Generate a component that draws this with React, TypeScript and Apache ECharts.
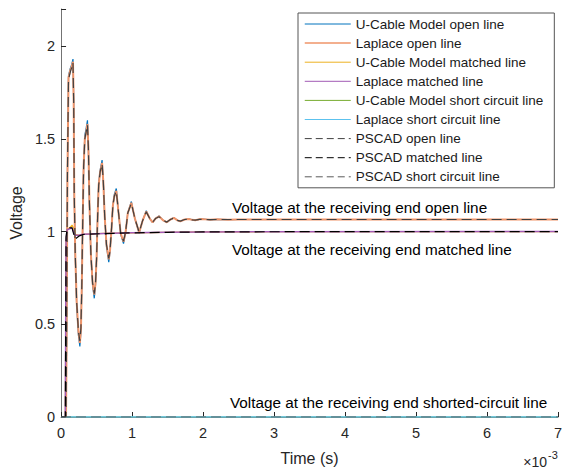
import React, { useEffect, useRef } from "react";
import * as echarts from "echarts";

// time in units of 1e-3 s
const openT = [0, 0.07, 0.078, 0.09, 0.105, 0.13, 0.15, 0.168, 0.178, 0.186, 0.2, 0.22, 0.245, 0.265, 0.28, 0.292, 0.305, 0.318, 0.335, 0.355, 0.372, 0.385, 0.4, 0.42, 0.445, 0.468, 0.485, 0.5, 0.515, 0.53, 0.55, 0.578, 0.595, 0.615, 0.64, 0.672, 0.69, 0.71, 0.73, 0.75, 0.778, 0.81, 0.84, 0.88, 0.91, 0.94, 0.99, 1.04, 1.1, 1.15, 1.2, 1.25, 1.29, 1.33, 1.38, 1.44, 1.49, 1.54, 1.59, 1.64, 1.68, 1.74, 1.8, 1.85, 1.89, 1.95, 2.0, 2.1, 2.2, 2.35, 2.5, 3.0, 4.0, 5.0, 6.0, 7.0];
const laplaceOpenV = [0, 0, 0.4, 1.3, 1.83, 1.87, 1.89, 1.915, 1.7, 1.2, 0.88, 0.62, 0.46, 0.4, 0.47, 0.7, 1.05, 1.35, 1.5, 1.54, 1.58, 1.45, 1.15, 0.88, 0.72, 0.66, 0.72, 0.85, 1.08, 1.25, 1.32, 1.37, 1.27, 1.08, 0.93, 0.85, 0.9, 1.01, 1.14, 1.19, 1.22, 1.1, 0.99, 0.945, 1.0, 1.1, 1.155, 1.07, 0.995, 1.06, 1.108, 1.07, 1.05, 1.07, 1.082, 1.06, 1.05, 1.065, 1.074, 1.06, 1.055, 1.065, 1.068, 1.063, 1.061, 1.066, 1.067, 1.063, 1.066, 1.064, 1.065, 1.065, 1.065, 1.065, 1.065, 1.065];
const uCableOpenV = [0, 0, 0.4, 1.3, 1.84, 1.88, 1.9, 1.93, 1.71, 1.2, 0.87, 0.6, 0.44, 0.38, 0.46, 0.7, 1.05, 1.36, 1.52, 1.56, 1.6, 1.46, 1.15, 0.87, 0.71, 0.64, 0.71, 0.85, 1.08, 1.26, 1.33, 1.385, 1.28, 1.08, 0.92, 0.835, 0.89, 1.01, 1.14, 1.2, 1.232, 1.1, 0.985, 0.935, 1.0, 1.1, 1.162, 1.07, 0.99, 1.06, 1.112, 1.07, 1.048, 1.07, 1.084, 1.06, 1.049, 1.065, 1.075, 1.06, 1.054, 1.065, 1.068, 1.063, 1.061, 1.066, 1.067, 1.063, 1.066, 1.064, 1.065, 1.065, 1.065, 1.065, 1.065, 1.065];
const pscadOpenV = [0, 0, 0.45, 1.32, 1.82, 1.86, 1.885, 1.91, 1.69, 1.2, 0.88, 0.62, 0.46, 0.41, 0.48, 0.7, 1.05, 1.35, 1.5, 1.54, 1.575, 1.45, 1.15, 0.88, 0.72, 0.665, 0.72, 0.85, 1.08, 1.25, 1.32, 1.365, 1.27, 1.08, 0.93, 0.855, 0.9, 1.01, 1.14, 1.19, 1.218, 1.1, 0.99, 0.948, 1.0, 1.1, 1.152, 1.07, 0.997, 1.06, 1.106, 1.07, 1.051, 1.07, 1.08, 1.06, 1.051, 1.065, 1.073, 1.06, 1.056, 1.065, 1.067, 1.063, 1.062, 1.066, 1.066, 1.064, 1.065, 1.065, 1.065, 1.065, 1.065, 1.065, 1.065, 1.065];

const matchedT = [0, 0.06, 0.07, 0.085, 0.12, 0.155, 0.175, 0.2, 0.25, 0.31, 0.6, 1.0, 1.5, 2.0, 3.0, 7.0];
const uCableMatchedV = [0, 0, 0.95, 1.01, 1.02, 1.035, 1.02, 0.985, 0.98, 0.985, 0.99, 0.993, 0.996, 0.998, 0.999, 1.0];
const laplaceMatchedV = [0, 0, 0.95, 1.01, 1.015, 1.02, 1.0, 0.98, 0.98, 0.985, 0.99, 0.993, 0.996, 0.998, 0.999, 1.0];
const pscadMatchedV = [0, 0, 0.97, 1.015, 1.02, 1.02, 0.99, 0.96, 0.975, 0.984, 0.989, 0.993, 0.996, 0.998, 0.999, 1.0];

const shortT = [0, 0.06, 0.1, 7.0];
const uCableShortV = [0, 0, 0, 0];
const laplaceShortV = [0, 0, 0, 0];
const pscadShortV = [0, 0, 0, 0];

const xTicks = [0, 1, 2, 3, 4, 5, 6, 7];
const yTicks = [0, 0.5, 1, 1.5, 2];

const seriesNames = [
  "U-Cable Model open line",
  "Laplace open line",
  "U-Cable Model matched line",
  "Laplace matched line",
  "U-Cable Model short circuit line",
  "Laplace short circuit line",
  "PSCAD open line",
  "PSCAD matched line",
  "PSCAD short circuit line",
];

const annotations = [
  "Voltage at the receiving end open line",
  "Voltage at the receiving end matched line",
  "Voltage at the receiving end shorted-circuit line",
];

const zip = (t: number[], v: number[]) => t.map((x, i) => [x, v[i]]);

const FONT = "Liberation Sans, Arial, Helvetica, sans-serif";

export default function App() {
  const ref = useRef<HTMLDivElement>(null);
  useEffect(() => {
    if (!ref.current) return;
    const chart = echarts.init(ref.current, undefined, { renderer: "svg" });
    const mk = (name: string, data: number[][], color: string, width: number, dashed?: boolean) => ({
      name,
      type: "line",
      data,
      symbol: "none",
      showSymbol: false,
      lineStyle: { color, width, type: dashed ? [10, 5] : "solid" },
      itemStyle: { color },
      emphasis: { disabled: true },
    });
    const legendData = seriesNames.map((name, i) => ({
      name,
      lineStyle: i >= 6 ? { width: 1, type: [7, 4] } : { width: i === 1 ? 1.5 : 1 },
    }));
    chart.setOption({
      animation: false,
      backgroundColor: "#ffffff",
      textStyle: { fontFamily: FONT },
      grid: { left: 57, right: 4, top: 9, bottom: 53, containLabel: false },
      xAxis: {
        type: "value",
        min: 0,
        max: 7,
        interval: 1,
        name: "Time (s)",
        nameLocation: "middle",
        nameGap: 33,
        nameTextStyle: { fontSize: 16, color: "#262626", fontFamily: FONT },
        axisLine: { show: true, lineStyle: { color: "#737373", width: 1 } },
        axisTick: { show: true, inside: true, length: 5, lineStyle: { color: "#262626" } },
        axisLabel: {
          fontSize: 14.5,
          color: "#262626",
          margin: 8,
          fontFamily: FONT,
          formatter: (v: number) => (xTicks.includes(v) ? String(v) : ""),
        },
        splitLine: { show: false },
      },
      yAxis: {
        type: "value",
        min: 0,
        max: 2.2,
        interval: 0.5,
        name: "Voltage",
        nameLocation: "middle",
        nameGap: 33,
        nameTextStyle: { fontSize: 16, color: "#262626", fontFamily: FONT },
        axisLine: { show: true, lineStyle: { color: "#737373", width: 1 } },
        axisTick: { show: true, inside: true, length: 5, lineStyle: { color: "#262626" } },
        axisLabel: {
          fontSize: 14.5,
          color: "#262626",
          margin: 6,
          fontFamily: FONT,
          formatter: (v: number) => (yTicks.includes(v) ? String(v) : ""),
        },
        splitLine: { show: false },
      },
      legend: {
        data: legendData,
        orient: "vertical",
        left: 298,
        top: 13,
        padding: [4, 11, 4, 6],
        itemWidth: 46,
        itemHeight: 14,
        itemGap: 5.1,
        itemStyle: { opacity: 0 },
        backgroundColor: "#ffffff",
        borderColor: "#555555",
        borderWidth: 1,
        borderRadius: 0,
        textStyle: { fontSize: 13.5, color: "#1a1a1a", fontFamily: FONT },
        selectedMode: false,
      },
      graphic: [
        {
          type: "text",
          x: 232,
          y: 207,
          style: { text: annotations[0], fontSize: 15.3, fill: "#000", fontFamily: FONT, verticalAlign: "middle" },
          z: 100,
        },
        {
          type: "text",
          x: 232,
          y: 249,
          style: { text: annotations[1], fontSize: 15.3, fill: "#000", fontFamily: FONT, verticalAlign: "middle" },
          z: 100,
        },
        {
          type: "text",
          x: 230,
          y: 402,
          style: { text: annotations[2], fontSize: 15.3, fill: "#000", fontFamily: FONT, verticalAlign: "middle" },
          z: 100,
        },
        {
          type: "text",
          x: 547,
          y: 462,
          style: { text: "×10", fontSize: 14, fill: "#262626", fontFamily: FONT, align: "right", verticalAlign: "middle" },
        },
        {
          type: "text",
          x: 548,
          y: 455,
          style: { text: "-3", fontSize: 11, fill: "#262626", fontFamily: FONT, align: "left", verticalAlign: "middle" },
        },
      ],
      series: [
        mk(seriesNames[0], zip(openT, uCableOpenV), "#0072BD", 1.2),
        mk(seriesNames[1], zip(openT, laplaceOpenV), "#EF9469", 2),
        mk(seriesNames[2], zip(matchedT, uCableMatchedV), "#EDB120", 1.2),
        mk(seriesNames[3], zip(matchedT, laplaceMatchedV), "#A25AB5", 1.5),
        mk(seriesNames[4], zip(shortT, uCableShortV), "#77AC30", 1.2),
        mk(seriesNames[5], zip(shortT, laplaceShortV), "#5CC2EE", 1.5),
        mk(seriesNames[6], zip(openT, pscadOpenV), "#404040", 1.2, true),
        mk(seriesNames[7], zip(matchedT, pscadMatchedV), "#000000", 1.2, true),
        mk(seriesNames[8], zip(shortT, pscadShortV), "#5a5a5a", 1.2, true),
      ],
    });
    return () => chart.dispose();
  }, []);
  return (
    <div
      ref={ref}
      style={{ position: "fixed", left: 0, top: 0, width: 565, height: 471, background: "#fff" }}
    />
  );
}
